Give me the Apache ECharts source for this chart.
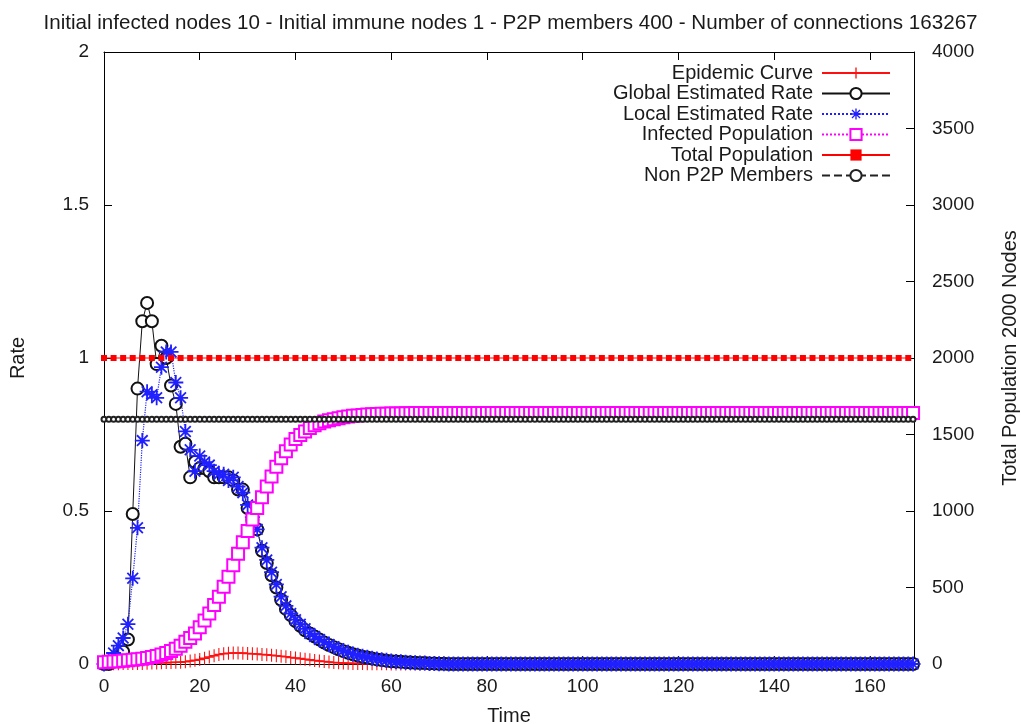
<!DOCTYPE html>
<html>
<head>
<meta charset="utf-8">
<script src="https://cdn.jsdelivr.net/npm/echarts@6/dist/echarts.min.js"></script>
<style>
	html, body { margin: 0; padding: 0; background: #fff; }
	#chart { width: 1021px; height: 724px; }
</style>
</head>
<body>
<div id="chart"></div>
<script>
	var time = [
		0, 1, 2, 3, 4, 5, 6, 7, 8, 9, 10, 11, 12, 13, 14, 15, 16, 17, 18, 19,
		20, 21, 22, 23, 24, 25, 26, 27, 28, 29, 30, 31, 32, 33, 34, 35, 36, 37, 38, 39,
		40, 41, 42, 43, 44, 45, 46, 47, 48, 49, 50, 51, 52, 53, 54, 55, 56, 57, 58, 59,
		60, 61, 62, 63, 64, 65, 66, 67, 68, 69, 70, 71, 72, 73, 74, 75, 76, 77, 78, 79,
		80, 81, 82, 83, 84, 85, 86, 87, 88, 89, 90, 91, 92, 93, 94, 95, 96, 97, 98, 99,
		100, 101, 102, 103, 104, 105, 106, 107, 108, 109, 110, 111, 112, 113, 114, 115, 116, 117, 118, 119,
		120, 121, 122, 123, 124, 125, 126, 127, 128, 129, 130, 131, 132, 133, 134, 135, 136, 137, 138, 139,
		140, 141, 142, 143, 144, 145, 146, 147, 148, 149, 150, 151, 152, 153, 154, 155, 156, 157, 158, 159,
		160, 161, 162, 163, 164, 165, 166, 167, 168, 169
	];

	// new infections per step (right axis)
	var epidemicCurve = [
		2, 2, 2, 2, 3, 3, 3, 4, 4, 5, 6, 7, 8, 9, 10, 11, 12, 15, 19, 24,
		30, 38, 46, 54, 62, 67, 70, 72, 72, 71, 69, 67, 65, 62, 60, 57, 54, 51, 47, 43,
		39, 35, 31, 27, 23, 19, 16, 13, 10, 8, 6, 5, 4, 3, 3, 2, 2, 1, 1, 1,
		0, 0, 0, 0, 0, 0, 0, 0, 0, 0, 0, 0, 0, 0, 0, 0, 0, 0, 0, 0,
		0, 0, 0, 0, 0, 0, 0, 0, 0, 0, 0, 0, 0, 0, 0, 0, 0, 0, 0, 0,
		0, 0, 0, 0, 0, 0, 0, 0, 0, 0, 0, 0, 0, 0, 0, 0, 0, 0, 0, 0,
		0, 0, 0, 0, 0, 0, 0, 0, 0, 0, 0, 0, 0, 0, 0, 0, 0, 0, 0, 0,
		0, 0, 0, 0, 0, 0, 0, 0, 0, 0, 0, 0, 0, 0, 0, 0, 0, 0, 0, 0,
		0, 0, 0, 0, 0, 0, 0, 0, 0, 0
	];

	var globalRate = [
		0, 0, 0.01, 0.02, 0.04, 0.08, 0.49, 0.90, 1.12, 1.18,
		1.12, 0.98, 1.04, 1.00, 0.91, 0.85, 0.71, 0.72, 0.61, 0.66,
		0.64, 0.64, 0.63, 0.61, 0.61, 0.61, 0.61, 0.60, 0.57, 0.57,
		0.51, 0.47, 0.44, 0.37, 0.33, 0.29, 0.25, 0.21, 0.18, 0.16,
		0.14, 0.125, 0.11, 0.10, 0.09, 0.08, 0.07, 0.062, 0.055, 0.048,
		0.042, 0.037, 0.032, 0.028, 0.024, 0.021, 0.018, 0.015, 0.013, 0.011,
		0.009, 0.008, 0.007, 0.006, 0.005, 0.004, 0.003, 0.003, 0.002, 0.002,
		0.001, 0.001, 0, 0, 0, 0, 0, 0, 0, 0,
		0, 0, 0, 0, 0, 0, 0, 0, 0, 0, 0, 0, 0, 0, 0, 0, 0, 0, 0, 0,
		0, 0, 0, 0, 0, 0, 0, 0, 0, 0, 0, 0, 0, 0, 0, 0, 0, 0, 0, 0,
		0, 0, 0, 0, 0, 0, 0, 0, 0, 0, 0, 0, 0, 0, 0, 0, 0, 0, 0, 0,
		0, 0, 0, 0, 0, 0, 0, 0, 0, 0, 0, 0, 0, 0, 0, 0, 0, 0, 0, 0,
		0, 0, 0, 0, 0, 0, 0, 0, 0, 0
	];

	var localRate = [
		0, 0.01, 0.036, 0.06, 0.085, 0.13, 0.28, 0.445, 0.73, 0.89,
		0.88, 0.87, 0.97, 1.02, 1.02, 0.92, 0.87, 0.76, 0.70, 0.63,
		0.68, 0.66, 0.65, 0.63, 0.62, 0.62, 0.60, 0.61, 0.58, 0.56,
		0.52, 0.48, 0.44, 0.38, 0.34, 0.30, 0.26, 0.22, 0.19, 0.165,
		0.145, 0.13, 0.115, 0.10, 0.09, 0.08, 0.072, 0.064, 0.056, 0.05,
		0.044, 0.038, 0.033, 0.029, 0.025, 0.022, 0.019, 0.016, 0.014, 0.012,
		0.010, 0.008, 0.007, 0.006, 0.005, 0.004, 0.003, 0.003, 0.002, 0.002,
		0.001, 0.001, 0, 0, 0, 0, 0, 0, 0, 0,
		0, 0, 0, 0, 0, 0, 0, 0, 0, 0, 0, 0, 0, 0, 0, 0, 0, 0, 0, 0,
		0, 0, 0, 0, 0, 0, 0, 0, 0, 0, 0, 0, 0, 0, 0, 0, 0, 0, 0, 0,
		0, 0, 0, 0, 0, 0, 0, 0, 0, 0, 0, 0, 0, 0, 0, 0, 0, 0, 0, 0,
		0, 0, 0, 0, 0, 0, 0, 0, 0, 0, 0, 0, 0, 0, 0, 0, 0, 0, 0, 0,
		0, 0, 0, 0, 0, 0, 0, 0, 0, 0
	];

	var infectedPopulation = [
		12, 14, 16, 18, 21, 24, 27, 31, 35, 40,
		46, 53, 62, 72, 85, 100, 120, 145, 170, 200,
		240, 285, 330, 385, 440, 505, 570, 645, 720, 795,
		870, 945, 1020, 1090, 1160, 1225, 1290, 1345, 1390, 1435,
		1470, 1497, 1520, 1542, 1560, 1573, 1585, 1593, 1600, 1607,
		1613, 1618, 1622, 1625, 1628, 1630, 1632, 1634, 1635, 1636,
		1637, 1638, 1638, 1639, 1639, 1640, 1640, 1640, 1640, 1640,
		1640, 1640, 1640, 1640, 1640, 1640, 1640, 1640, 1640, 1640,
		1640, 1640, 1640, 1640, 1640, 1640, 1640, 1640, 1640, 1640,
		1640, 1640, 1640, 1640, 1640, 1640, 1640, 1640, 1640, 1640,
		1640, 1640, 1640, 1640, 1640, 1640, 1640, 1640, 1640, 1640,
		1640, 1640, 1640, 1640, 1640, 1640, 1640, 1640, 1640, 1640,
		1640, 1640, 1640, 1640, 1640, 1640, 1640, 1640, 1640, 1640,
		1640, 1640, 1640, 1640, 1640, 1640, 1640, 1640, 1640, 1640,
		1640, 1640, 1640, 1640, 1640, 1640, 1640, 1640, 1640, 1640,
		1640, 1640, 1640, 1640, 1640, 1640, 1640, 1640, 1640, 1640,
		1640, 1640, 1640, 1640, 1640, 1640, 1640, 1640, 1640, 1640
	];

	var totalPopulation = 2000;
	var nonP2PMembers = 1600;

	var rateTicks = [0, 0.5, 1, 1.5, 2];
	var nodeTicks = [0, 500, 1000, 1500, 2000, 2500, 3000, 3500, 4000];

	function pairs(xs, ys) {
		return xs.map(function (x, i) { return [x, ys[i]]; });
	}

	var plusPath = 'path://M4.4,0H5.6V4.4H10V5.6H5.6V10H4.4V5.6H0V4.4H4.4Z';
	var starPath = 'path://M4.4,0H5.6V10H4.4Z M0,4.4H10V5.6H0Z M1,1.85L1.85,1L9,8.15L8.15,9Z M8.15,1L9,1.85L1.85,9L1,8.15Z';

	var font = '"Liberation Sans", Arial, sans-serif';
	var textColor = '#1a1a1a';
	var frame = { onZero: false, lineStyle: { color: '#000', width: 1 } };
	var ticks = { show: true, inside: true, length: 8, lineStyle: { color: '#000' } };

	var chart = echarts.init(document.getElementById('chart'));
	chart.setOption({
		animation: false,
		backgroundColor: '#fff',
		title: {
			text: 'Initial infected nodes 10 - Initial immune nodes 1 - P2P members 400 - Number of connections 163267',
			left: 'center',
			top: 8,
			textStyle: { fontFamily: font, fontSize: 20.6, fontWeight: 'normal', color: textColor }
		},
		legend: {
			orient: 'vertical',
			right: 125,
			top: 58,
			align: 'right',
			itemWidth: 68,
			itemHeight: 14,
			itemGap: 0.5,
			textStyle: { fontFamily: font, fontSize: 20, color: textColor, lineHeight: 20, padding: [0, 4, 0, 0] },
			data: ['Epidemic Curve', 'Global Estimated Rate', 'Local Estimated Rate',
				'Infected Population', 'Total Population', 'Non P2P Members']
		},
		grid: { left: 104, right: 107, top: 52, bottom: 60, outerBoundsMode: 'none' },
		xAxis: [{
			type: 'value',
			min: 0,
			max: 169.2,
			interval: 20,
			name: 'Time',
			nameLocation: 'middle',
			nameGap: 42,
			nameTextStyle: { fontFamily: font, fontSize: 20, color: textColor },
			axisLine: frame,
			axisTick: ticks,
			axisLabel: { fontFamily: font, fontSize: 19, color: textColor, margin: 13, showMaxLabel: false },
			splitLine: { show: false }
		}, {
			type: 'value',
			position: 'top',
			min: 0,
			max: 169.2,
			interval: 20,
			axisLine: frame,
			axisTick: ticks,
			axisLabel: { show: false },
			splitLine: { show: false }
		}],
		yAxis: [{
			type: 'value',
			min: rateTicks[0],
			max: rateTicks[rateTicks.length - 1],
			interval: 0.5,
			name: 'Rate',
			nameLocation: 'middle',
			nameRotate: 90,
			nameGap: 76,
			nameTextStyle: { fontFamily: font, fontSize: 20, color: textColor },
			axisLine: frame,
			axisTick: ticks,
			axisLabel: { fontFamily: font, fontSize: 19, color: textColor, margin: 15 },
			splitLine: { show: false }
		}, {
			type: 'value',
			position: 'right',
			min: nodeTicks[0],
			max: nodeTicks[nodeTicks.length - 1],
			interval: 500,
			name: 'Total Population 2000 Nodes',
			nameLocation: 'middle',
			nameRotate: 90,
			nameGap: 86,
			nameTextStyle: { fontFamily: font, fontSize: 20, color: textColor },
			axisLine: frame,
			axisTick: ticks,
			axisLabel: {
				fontFamily: font, fontSize: 19, color: textColor, margin: 18,
				formatter: function (v) { return String(v); }
			},
			splitLine: { show: false }
		}],
		series: [
			{
				name: 'Epidemic Curve',
				type: 'line',
				yAxisIndex: 1,
				data: pairs(time, epidemicCurve),
				symbol: plusPath,
				symbolSize: [9, 13],
				itemStyle: { color: '#ff1010' },
				lineStyle: { color: '#ff1010', width: 1 }
			},
			{
				name: 'Global Estimated Rate',
				type: 'line',
				data: pairs(time, globalRate),
				symbol: 'emptyCircle',
				symbolSize: 12,
				itemStyle: { color: '#111', borderWidth: 1 },
				lineStyle: { color: '#111', width: 1 }
			},
			{
				name: 'Local Estimated Rate',
				type: 'line',
				data: pairs(time, localRate),
				symbol: starPath,
				symbolSize: 15,
				itemStyle: { color: '#2020ff' },
				lineStyle: { color: '#2020ff', width: 1.2, type: 'dotted' }
			},
			{
				name: 'Infected Population',
				type: 'line',
				yAxisIndex: 1,
				data: pairs(time, infectedPopulation),
				symbol: 'emptyRect',
				symbolSize: 12,
				itemStyle: { color: '#ff00ff', borderWidth: 1 },
				lineStyle: { color: '#ff00ff', width: 1.2, type: 'dotted' }
			},
			{
				name: 'Total Population',
				type: 'line',
				yAxisIndex: 1,
				data: time.filter(function (t, i) { return i % 2 === 0; })
					.map(function (t) { return [t, totalPopulation]; }),
				symbol: 'rect',
				symbolSize: 6,
				itemStyle: { color: '#ff0000' },
				lineStyle: { color: '#ff0000', width: 1 }
			},
			{
				name: 'Non P2P Members',
				type: 'line',
				yAxisIndex: 1,
				data: time.map(function (t) { return [t, nonP2PMembers]; }),
				symbol: 'emptyCircle',
				symbolSize: 5,
				itemStyle: { color: '#222', borderWidth: 1.5 },
				lineStyle: { color: '#222', width: 1, type: 'dashed' }
			}
		]
	});
</script>
</body>
</html>
